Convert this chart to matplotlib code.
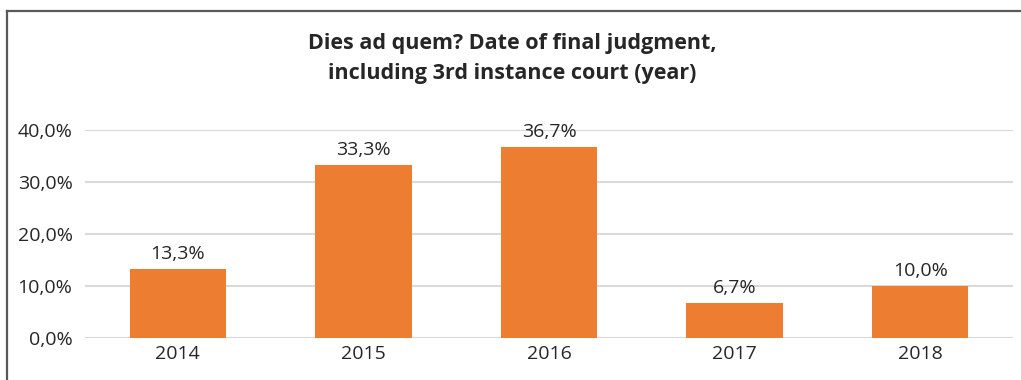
import matplotlib
matplotlib.use("Agg")
import matplotlib.pyplot as plt
from matplotlib.lines import Line2D

years = ["2014", "2015", "2016", "2017", "2018"]
shares = [13.3, 33.3, 36.7, 6.7, 10.0]
y_ticks = [0, 10, 20, 30, 40]

plt.rcParams["font.family"] = ["Open Sans", "DejaVu Sans"]

W, H = 1021, 380
fig = plt.figure(figsize=(W / 100, H / 100), dpi=100)
ax = fig.add_axes([85 / W, (H - 338) / H, (1013 - 85) / W, (338 - 130) / H])

x = range(len(years))
bars = ax.bar(x, shares, width=0.52, color="#ED7D31", zorder=3)
for xi, v in zip(x, shares):
    ax.text(xi, v + 1.2, f"{v:.1f}%".replace(".", ","), ha="center", va="bottom",
            fontsize=14, color="#262626")

ax.set_xlim(-0.5, len(years) - 0.5)
ax.set_ylim(0, 40)
ax.set_yticks(y_ticks)
ax.set_yticklabels([f"{t:.1f}%".replace(".", ",") for t in y_ticks])
ax.set_xticks(list(x))
ax.set_xticklabels(years)
ax.tick_params(axis="both", length=0, labelsize=14, colors="#262626")
ax.tick_params(axis="y", pad=9)
ax.tick_params(axis="x", pad=5)
ax.grid(axis="y", color="#D9D9D9", linewidth=1.5, zorder=0)
for s in ax.spines.values():
    s.set_visible(False)
ax.set_axisbelow(True)

fig.text(512 / W, 1 - 44 / H, "Dies ad quem? Date of final judgment,", ha="center", va="center",
         fontsize=15.5, fontweight="bold", color="#262626")
fig.text(512 / W, 1 - 73 / H, "including 3rd instance court (year)", ha="center", va="center",
         fontsize=15.5, fontweight="bold", color="#262626")

# frame lines along the top and left edges
fig.add_artist(Line2D([7 / W, 7 / W], [0, 1 - 11 / H], transform=fig.transFigure,
                      color="#595959", linewidth=1.6))
fig.add_artist(Line2D([7 / W, 1], [1 - 11 / H, 1 - 11 / H], transform=fig.transFigure,
                      color="#595959", linewidth=1.6))

fig.savefig("out.png", dpi=100)
